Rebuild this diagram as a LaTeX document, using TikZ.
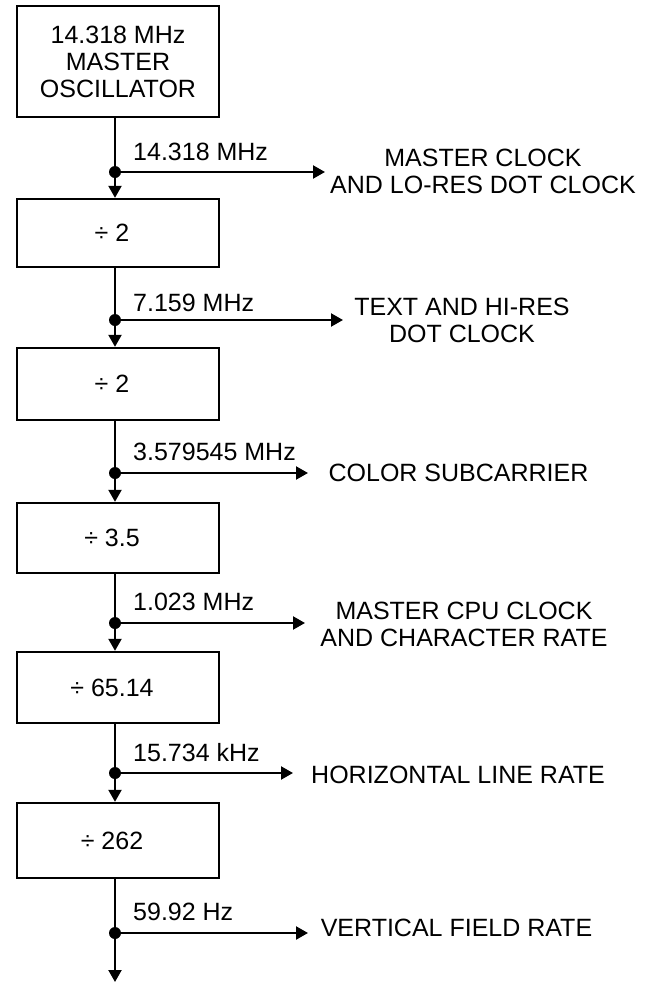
\documentclass[tikz,border=0pt]{standalone}
\usepackage{fontspec}
\setmainfont{Liberation Sans}
\usetikzlibrary{arrows.meta}
\begin{document}
\begin{tikzpicture}[x=1pt,y=-1pt,
 box/.style={draw, line width=2.4pt, minimum width=202pt, inner sep=0pt, align=center, font=\fontsize{25}{27}\selectfont},
 wire/.style={line width=2.2pt},
 arr/.style={wire, -{Triangle[width=13pt,length=12pt]}},
 jdot/.style={circle, fill, inner sep=0pt, minimum size=12pt},
 lbl/.style={font=\fontsize{25}{27}\selectfont, align=center, inner sep=0pt},
 ]
\useasboundingbox[fill=white] (0,0) rectangle (648,983);
% boxes
\node[box, minimum height=111pt] (b1) at (118,61.5) {14.318 MHz\\MASTER\\OSCILLATOR};
\node[box, minimum height=68pt] (b2) at (118,233) {÷ 2\kern12pt};
\node[box, minimum height=72pt] (b3) at (118,384) {÷ 2\kern12pt};
\node[box, minimum height=70pt] (b4) at (118,538) {÷ 3.5\kern12pt};
\node[box, minimum height=71pt] (b5) at (118,687.5) {÷ 65.14\kern12pt};
\node[box, minimum height=75pt] (b6) at (118,840.5) {÷ 262\kern12pt};
% junction points
\coordinate (d1) at (115,172);
\coordinate (d2) at (115,320);
\coordinate (d3) at (115,473);
\coordinate (d4) at (115,623);
\coordinate (d5) at (115,773);
\coordinate (d6) at (115,933);
\coordinate (e1) at (325,172);
\coordinate (e2) at (343,320);
\coordinate (e3) at (308,473);
\coordinate (e4) at (305,623);
\coordinate (e5) at (293,773);
\coordinate (e6) at (308,933);
\coordinate (end) at (115,982);
% vertical chain
\draw[wire] (b1.south -| d1) -- (d1);
\draw[arr] (d1) -- (b2.north -| d1);
\draw[wire] (b2.south -| d2) -- (d2);
\draw[arr] (d2) -- (b3.north -| d2);
\draw[wire] (b3.south -| d3) -- (d3);
\draw[arr] (d3) -- (b4.north -| d3);
\draw[wire] (b4.south -| d4) -- (d4);
\draw[arr] (d4) -- (b5.north -| d4);
\draw[wire] (b5.south -| d5) -- (d5);
\draw[arr] (d5) -- (b6.north -| d5);
\draw[wire] (b6.south -| d6) -- (d6);
\draw[arr] (d6) -- (end);
% branches
\foreach \i in {1,...,6} {
  \draw[arr] (d\i) -- (e\i);
  \node[jdot] (j\i) at (d\i) {};
}
% frequency labels
\node[lbl, anchor=west] (f1) at (133,152) {14.318 MHz};
\node[lbl, anchor=west] (f2) at (133,303) {7.159 MHz};
\node[lbl, anchor=west] (f3) at (133,452) {3.579545 MHz};
\node[lbl, anchor=west] (f4) at (133,602) {1.023 MHz};
\node[lbl, anchor=west] (f5) at (133,753) {15.734 kHz};
\node[lbl, anchor=west] (f6) at (133,912) {59.92 Hz};
% destination labels
\node[lbl] (t1) at (483,171.5) {MASTER CLOCK\\AND LO-RES DOT CLOCK};
\node[lbl] (t2) at (462,320) {TEXT AND HI-RES\\DOT CLOCK};
\node[lbl] (t3) at (458.5,473) {COLOR SUBCARRIER};
\node[lbl] (t4) at (464,624) {MASTER CPU CLOCK\\AND CHARACTER RATE};
\node[lbl] (t5) at (458,775) {HORIZONTAL LINE RATE};
\node[lbl] (t6) at (456.5,928) {VERTICAL FIELD RATE};
\end{tikzpicture}
\end{document}
